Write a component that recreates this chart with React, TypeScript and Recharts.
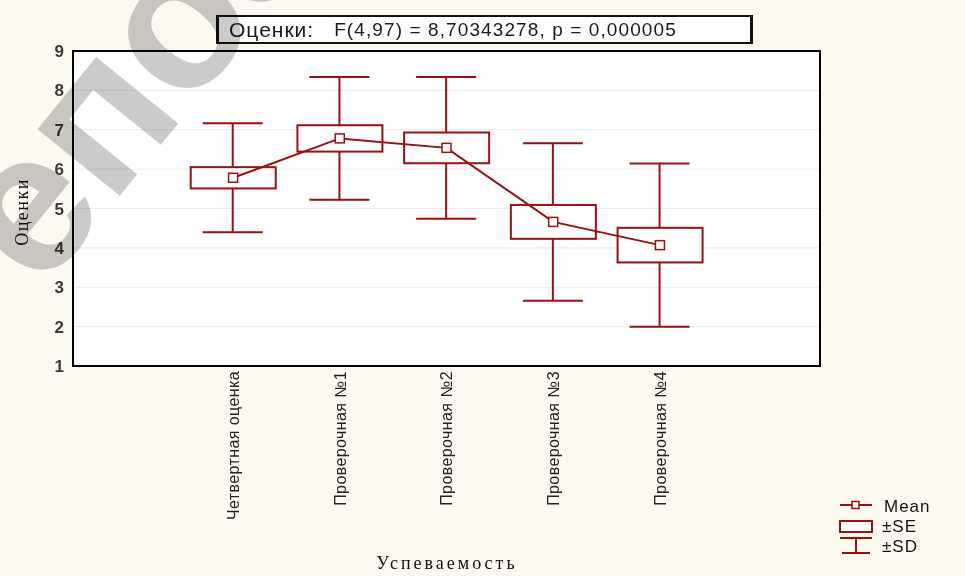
import { ComposedChart, Bar, Line, XAxis, YAxis, CartesianGrid, ReferenceArea } from "recharts";

const CATEGORIES = [
    "Четвертная оценка",
    "Проверочная №1",
    "Проверочная №2",
    "Проверочная №3",
    "Проверочная №4",
];
const MEANS = [5.78, 6.78, 6.54, 4.66, 4.07];
const SE = [0.27, 0.335, 0.39, 0.43, 0.44];
const SD = [1.385, 1.56, 1.8, 2.0, 2.075];
const Y_TICKS = [1, 2, 3, 4, 5, 6, 7, 8, 9];
const X_SLOTS = [0, 1, 2, 3, 4, 5, 6];

const RED = "#991111";
const SANS = "'Liberation Sans', Arial, sans-serif";
const SERIF = "'Liberation Serif', 'Times New Roman', serif";

const data = CATEGORIES.map((name, i) => ({
    pos: i + 1,
    name,
    mean: MEANS[i],
    se: [MEANS[i] - SE[i], MEANS[i] + SE[i]],
    sd: [MEANS[i] - SD[i], MEANS[i] + SD[i]],
}));

function Whisker(props: any) {
    const { x, y, width, height } = props;
    const cx = x + width / 2;
    const top = Math.min(y, y + height);
    const bottom = Math.max(y, y + height);
    const half = width / 2;
    return (
        <g stroke={RED} strokeWidth={2}>
            <line x1={cx} y1={top} x2={cx} y2={bottom} />
            <line x1={cx - half} y1={top} x2={cx + half} y2={top} />
            <line x1={cx - half} y1={bottom} x2={cx + half} y2={bottom} />
        </g>
    );
}

function SeBox(props: any) {
    const { x, y, width, height } = props;
    const top = Math.min(y, y + height);
    return <rect x={x} y={top} width={width} height={Math.abs(height)} fill="#fff" stroke={RED} strokeWidth={2} />;
}

function MeanDot(props: any) {
    const { cx, cy } = props;
    if (cx == null || cy == null) return <g />;
    return <rect x={cx - 4.5} y={cy - 4.5} width={9} height={9} fill="#fff" stroke={RED} strokeWidth={1.5} />;
}

function CategoryTick(props: any) {
    const { x, y, payload } = props;
    const label = CATEGORIES[payload.value - 1];
    if (!label) return <g />;
    return (
        <text
            x={x}
            y={y}
            transform={`rotate(-90 ${x} ${y})`}
            textAnchor="end"
            dy="0.36em"
            fontSize={16}
            letterSpacing={0.4}
            fill="#222"
            fontFamily={SANS}
        >
            {label}
        </text>
    );
}

export default function App() {
    return (
        <div style={{ position: "absolute", left: 0, top: 0, width: 965, height: 576, background: "#fcf9ee", overflow: "hidden" }}>
            <ComposedChart width={965} height={576} data={data} margin={{ top: 51, right: 145, bottom: 0, left: 0 }}>
                <CartesianGrid xAxisId="main" horizontal vertical={false} stroke="#ebebeb" fill="#ffffff" />
                <XAxis
                    xAxisId="main"
                    type="number"
                    dataKey="pos"
                    domain={[-0.5, 6.5]}
                    ticks={X_SLOTS}
                    interval={0}
                    height={210}
                    tickLine={false}
                    tickSize={0}
                    tickMargin={5}
                    axisLine={{ stroke: "#000", strokeWidth: 2 }}
                    tick={<CategoryTick />}
                />
                <XAxis xAxisId="sd" type="number" dataKey="pos" domain={[-0.5, 6.5]} ticks={X_SLOTS} hide />
                <YAxis
                    type="number"
                    domain={[1, 9]}
                    ticks={Y_TICKS}
                    interval={0}
                    width={73}
                    tickLine={false}
                    tickSize={0}
                    tickMargin={9}
                    axisLine={{ stroke: "#000", strokeWidth: 2 }}
                    tick={{ fontSize: 17, fontWeight: "bold", fill: "#3a3a3a", fontFamily: SANS }}
                />
                <ReferenceArea xAxisId="main" x1={-0.5} x2={6.5} y1={1} y2={9} fill="none" stroke="#000" strokeWidth={2} ifOverflow="visible" />
                <Bar xAxisId="sd" dataKey="sd" barSize={60} shape={<Whisker />} isAnimationActive={false} />
                <Bar xAxisId="main" dataKey="se" barSize={85} shape={<SeBox />} isAnimationActive={false} />
                <Line
                    xAxisId="main"
                    type="linear"
                    dataKey="mean"
                    stroke={RED}
                    strokeWidth={2}
                    dot={<MeanDot />}
                    activeDot={false}
                    isAnimationActive={false}
                />
            </ComposedChart>

            <div
                style={{
                    position: "absolute",
                    left: 216,
                    top: 15,
                    width: 531,
                    height: 25,
                    borderTop: "2px solid #111",
                    borderBottom: "2px solid #111",
                    borderLeft: "3px solid #111",
                    borderRight: "3px solid #111",
                    background: "#fff",
                    display: "flex",
                    alignItems: "center",
                    fontFamily: SANS,
                    color: "#1a1a1a",
                    whiteSpace: "nowrap",
                }}
            >
                <span style={{ fontSize: 21, letterSpacing: 1, marginLeft: 10 }}>Оценки:</span>
                <span style={{ fontSize: 19, letterSpacing: 1.1, marginLeft: 20 }}>F(4,97) = 8,70343278, p = 0,000005</span>
            </div>

            <div style={{ position: "absolute", left: 836, top: 496, fontFamily: SANS, color: "#111" }}>
                <svg width={130} height={62} style={{ display: "block" }}>
                    <line x1={4} y1={9} x2={36} y2={9} stroke={RED} strokeWidth={2} />
                    <rect x={16} y={5.5} width={7} height={7} fill="#fff" stroke={RED} strokeWidth={1.5} />
                    <text x={48} y={16} fontSize={17} letterSpacing={1} fill="#111">Mean</text>
                    <rect x={4} y={25} width={32} height={11} fill="#fff" stroke={RED} strokeWidth={2} />
                    <text x={46} y={36} fontSize={17} letterSpacing={1} fill="#111">±SE</text>
                    <line x1={4} y1={42} x2={36} y2={42} stroke={RED} strokeWidth={2} />
                    <line x1={20} y1={42} x2={20} y2={57} stroke={RED} strokeWidth={2} />
                    <line x1={6} y1={57} x2={34} y2={57} stroke={RED} strokeWidth={2} />
                    <text x={46} y={56} fontSize={17} letterSpacing={1} fill="#111">±SD</text>
                </svg>
            </div>

            <svg width={965} height={576} style={{ position: "absolute", left: 0, top: 0, pointerEvents: "none" }}>
                <text
                    x={22}
                    y={212}
                    transform="rotate(-90 22 212)"
                    textAnchor="middle"
                    dy="0.35em"
                    fontSize={18}
                    letterSpacing={1.5}
                    fontFamily={SERIF}
                    fill="#111"
                >
                    Оценки
                </text>
                <text x={447} y={569} textAnchor="middle" fontSize={18} letterSpacing={3} fontFamily={SERIF} fill="#111">
                    Успеваемость
                </text>
            </svg>

            <svg width={965} height={576} style={{ position: "absolute", left: 0, top: 0, pointerEvents: "none", mixBlendMode: "multiply" }}>
                <text
                    x={41}
                    y={293}
                    transform="rotate(-51 41 293)"
                    fontSize={200}
                    fontWeight="bold"
                    fontFamily={SANS}
                    fill="#cbcbcb"
                >
                    епоз
                </text>
            </svg>
        </div>
    );
}
